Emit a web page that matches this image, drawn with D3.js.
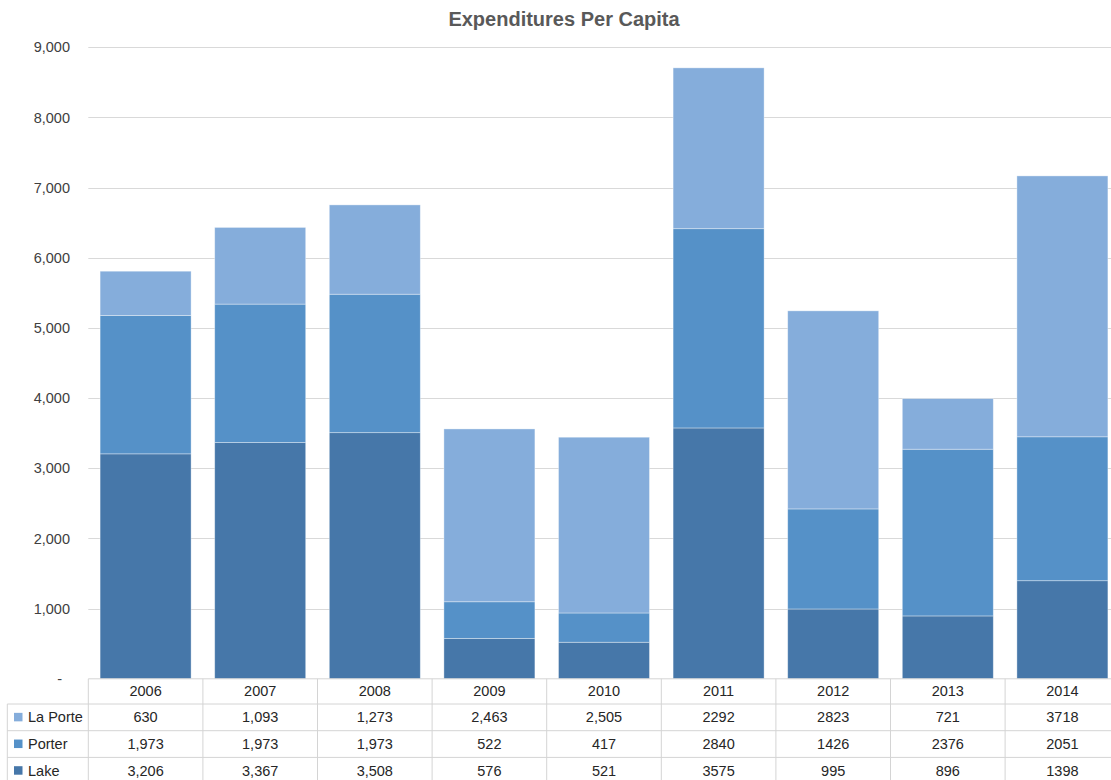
<!DOCTYPE html>
<html><head><meta charset="utf-8">
<script src="https://cdn.jsdelivr.net/npm/d3@7"></script>
<style>body{margin:0;background:#fff;} svg{display:block;}</style>
</head><body>
<svg id="c" width="1111" height="780"></svg>
<script>
const years = ["2006","2007","2008","2009","2010","2011","2012","2013","2014"];
const lake    = [3206, 3367, 3508, 576, 521, 3575, 995, 896, 1398];
const porter  = [1973, 1973, 1973, 522, 417, 2840, 1426, 2376, 2051];
const laPorte = [630, 1093, 1273, 2463, 2505, 2292, 2823, 721, 3718];
const lakeLabels    = ["3,206","3,367","3,508","576","521","3575","995","896","1398"];
const porterLabels  = ["1,973","1,973","1,973","522","417","2840","1426","2376","2051"];
const laPorteLabels = ["630","1,093","1,273","2,463","2,505","2292","2823","721","3718"];
const yTicks = [0,1000,2000,3000,4000,5000,6000,7000,8000,9000];
const seriesNames = ["Lake","Porter","La Porte"];
const colors = {"Lake":"#4677a9","Porter":"#5591c8","La Porte":"#85addb"};

const svg = d3.select("#c");
const x = d3.scaleBand().domain(years).range([88.3, 1119.7]).paddingInner(0.206).paddingOuter(0.103);
const y = d3.scaleLinear().domain([0, 9000]).range([678.8, 47.3]);
const font = "Liberation Sans, Arial, sans-serif";

// title
svg.append("text").attr("x", 564).attr("y", 26).attr("text-anchor","middle")
  .attr("font-family",font).attr("font-size",20).attr("font-weight","bold")
  .attr("fill","#595959").text("Expenditures Per Capita");

// gridlines
svg.append("g").selectAll("line").data(yTicks.filter(d=>d>0)).join("line")
  .attr("x1",88.3).attr("x2",1111).attr("y1",d=>Math.round(y(d))+0.5).attr("y2",d=>Math.round(y(d))+0.5)
  .attr("stroke","#d9d9d9").attr("stroke-width",1);

// y labels
svg.append("g").selectAll("text").data(yTicks).join("text")
  .attr("x", d=> d===0 ? 62 : 70).attr("y", d=>y(d)).attr("dy","0.35em").attr("text-anchor","end")
  .attr("font-family",font).attr("font-size",14.5).attr("fill","#404040")
  .text(d=> d===0 ? "-" : d3.format(",")(d));

// stacked data
const rows = years.map((yr,i)=>({year:yr, "Lake":lake[i], "Porter":porter[i], "La Porte":laPorte[i]}));
const stack = d3.stack().keys(seriesNames)(rows);
svg.append("g").selectAll("g").data(stack).join("g").attr("fill", d=>colors[d.key])
  .selectAll("rect").data(d=>d).join("rect")
  .attr("x", d=>x(d.data.year)).attr("width", x.bandwidth())
  .attr("y", d=>y(d[1])).attr("height", d=>y(d[0])-y(d[1]))
  .attr("stroke","#ffffff").attr("stroke-opacity",0.45).attr("stroke-width",0.8);

// data table
const tbl = svg.append("g");
const lineColor = "#d4d4d4";
const rowY = [678.8, 704, 730.7, 757.4, 784];
tbl.append("line").attr("x1",88.3).attr("x2",1111).attr("y1",rowY[0]).attr("y2",rowY[0]).attr("stroke",lineColor);
[1,2,3].forEach(i=>{
  tbl.append("line").attr("x1",7.3).attr("x2",1111).attr("y1",rowY[i]).attr("y2",rowY[i]).attr("stroke",lineColor);
});
const step = x.step();
const left0 = 88.3;
d3.range(0, years.length+1).forEach(k=>{
  const xx = left0 + k*step;
  tbl.append("line").attr("x1",xx).attr("x2",xx).attr("y1",rowY[0]).attr("y2",780).attr("stroke",lineColor);
});
tbl.append("line").attr("x1",7.3).attr("x2",7.3).attr("y1",rowY[1]).attr("y2",780).attr("stroke",lineColor);

const centers = years.map(yr=>x(yr)+x.bandwidth()/2);
tbl.selectAll("text.h").data(years).join("text").attr("class","h")
  .attr("x",(d,i)=>centers[i]).attr("y",(rowY[0]+rowY[1])/2).attr("dy","0.35em").attr("text-anchor","middle")
  .attr("font-family",font).attr("font-size",14.5).attr("fill","#262626").text(d=>d);

const tableRows = [["La Porte", laPorteLabels],["Porter", porterLabels],["Lake", lakeLabels]];
tableRows.forEach(([name, labels], r)=>{
  const cy = (rowY[r+1]+rowY[r+2])/2;
  tbl.append("rect").attr("x",14).attr("y",cy-4.5).attr("width",8.5).attr("height",8.5).attr("fill",colors[name]);
  tbl.append("text").attr("x",28).attr("y",cy).attr("dy","0.35em")
    .attr("font-family",font).attr("font-size",14.5).attr("fill","#262626").text(name);
  tbl.selectAll("text.r"+r).data(labels).join("text").attr("class","r"+r)
    .attr("x",(d,i)=>centers[i]).attr("y",cy).attr("dy","0.35em").attr("text-anchor","middle")
    .attr("font-family",font).attr("font-size",14.5).attr("fill","#262626").text(d=>d);
});
</script>
</body></html>
